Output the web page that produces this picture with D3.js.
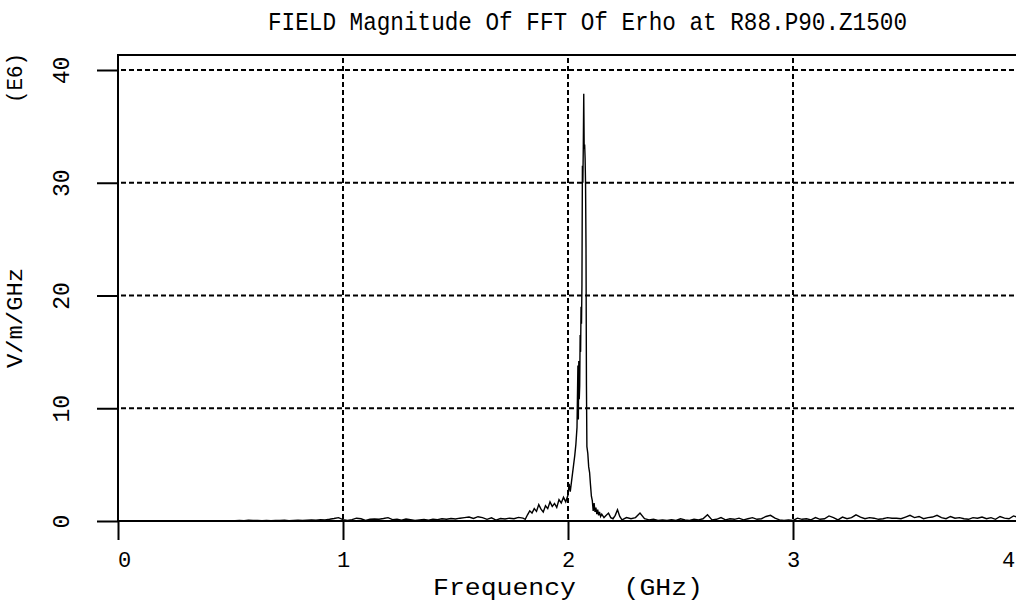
<!DOCTYPE html>
<html><head><meta charset="utf-8">
<script src="https://cdn.jsdelivr.net/npm/d3@7"></script>
<style>
body{margin:0;background:#fff;}
svg{display:block;}
text{font-family:"Liberation Mono","DejaVu Sans Mono",monospace;fill:#000;}
</style></head>
<body>
<svg id="chart" width="1016" height="610"></svg>
<script>
const titleText = "FIELD Magnitude Of FFT Of Erho at R88.P90.Z1500";
const xLabel = "Frequency   (GHz)";
const yLabel = "V/m/GHz";
const yScaleLabel = "(E6)";
const xTicks = [0, 1, 2, 3, 4];
const yTicks = [0, 10, 20, 30, 40];
const xGrid = [1, 2, 3];
const yGrid = [10, 20, 30, 40];

const freqGHz = [
  0.00,0.10,0.20,0.30,0.40,0.50,0.52,0.54,0.56,0.58,0.60,0.62,0.64,0.66,0.68,0.70,0.72,0.74,0.76,0.78,
  0.80,0.82,0.84,0.86,0.88,0.90,0.92,0.94,0.96,0.98,1.00,1.02,1.04,1.06,1.08,1.10,1.12,1.14,1.16,1.18,
  1.20,1.22,1.24,1.26,1.28,1.30,1.32,1.34,1.36,1.38,1.40,1.42,1.44,1.46,1.48,1.50,1.52,1.54,1.56,1.58,
  1.60,1.62,1.64,1.66,1.68,1.70,1.72,1.74,1.76,1.78,1.80,1.81,1.82,1.83,1.84,1.85,1.86,1.87,1.88,1.89,
  1.90,1.91,1.92,1.93,1.94,1.95,1.96,1.97,1.98,1.99,2.00,2.005,2.010,2.015,2.020,2.025,2.030,2.035,2.040,2.044,
  2.046,2.048,2.050,2.052,2.054,2.056,2.058,2.060,2.062,2.064,2.066,2.068,2.070,2.072,2.074,2.076,2.078,2.080,2.082,2.084,
  2.088,2.092,2.096,2.100,2.104,2.108,2.112,2.116,2.120,2.124,2.128,2.132,2.136,2.140,2.145,2.150,2.16,2.17,2.18,2.19,
  2.20,2.21,2.22,2.23,2.24,2.26,2.28,2.30,2.32,2.34,2.36,2.38,2.40,2.42,2.44,2.46,2.48,2.50,2.52,2.54,
  2.56,2.58,2.60,2.62,2.64,2.66,2.68,2.70,2.72,2.74,2.76,2.78,2.80,2.82,2.84,2.86,2.88,2.90,2.92,2.94,
  2.96,2.98,3.00,3.02,3.04,3.06,3.08,3.10,3.12,3.14,3.16,3.18,3.20,3.22,3.24,3.26,3.28,3.30,3.32,3.34,
  3.36,3.38,3.40,3.42,3.44,3.46,3.48,3.50,3.52,3.54,3.56,3.58,3.60,3.62,3.64,3.66,3.68,3.70,3.72,3.74,
  3.76,3.78,3.80,3.82,3.84,3.86,3.88,3.90,3.92,3.94,3.96,3.98,4.00
];
const magnitudeE6 = [
  0,0,0,0,0,0.00,0.02,0.05,0.03,0.06,0.04,0.05,0.02,0.04,0.03,0.05,0.04,0.06,0.03,0.05,
  0.06,0.04,0.08,0.10,0.07,0.12,0.10,0.15,0.22,0.30,0.12,0.05,0.12,0.25,0.20,0.05,0.15,0.18,0.16,0.22,
  0.30,0.12,0.15,0.08,0.18,0.12,0.05,0.10,0.14,0.08,0.16,0.12,0.20,0.15,0.22,0.18,0.25,0.30,0.35,0.22,
  0.38,0.30,0.15,0.28,0.08,0.22,0.18,0.25,0.20,0.32,0.25,0.15,0.55,0.90,0.70,1.10,0.85,1.45,1.05,0.80,
  1.35,1.10,1.70,1.30,1.55,1.20,1.90,1.60,2.10,1.70,2.30,3.3,2.6,3.4,4.2,5.0,5.8,6.8,8.3,13.8,
  9.0,14.2,10.8,12.0,16.5,15.0,19.0,17.5,21.0,31.5,30.0,33.2,37.9,33.0,33.4,32.2,30.0,24.3,12.0,6.6,
  6.0,4.8,4.3,3.2,2.2,1.8,0.9,1.6,0.8,1.2,0.6,1.0,0.5,0.8,0.4,0.6,0.3,0.5,0.7,0.3,
  0.2,0.5,1.0,0.4,0.1,0.3,0.2,0.3,0.7,0.2,0.1,0.15,0.05,0.10,0.05,0.12,0.05,0.2,0.1,0.05,
  0.15,0.1,0.2,0.55,0.1,0.15,0.3,0.1,0.2,0.15,0.25,0.1,0.2,0.3,0.15,0.2,0.4,0.5,0.25,0.1,
  0.05,0.1,0.05,0.25,0.15,0.2,0.1,0.3,0.15,0.2,0.45,0.3,0.1,0.35,0.2,0.3,0.55,0.35,0.2,0.3,
  0.25,0.15,0.2,0.3,0.25,0.25,0.2,0.35,0.5,0.3,0.4,0.2,0.3,0.35,0.5,0.3,0.2,0.4,0.25,0.3,
  0.2,0.15,0.3,0.25,0.35,0.2,0.3,0.15,0.4,0.25,0.2,0.45,0.3
];

const svg = d3.select("#chart");
const W = 1016, H = 610;
const left = 118, right = 1018, plotTop = 55;
const x = d3.scaleLinear().domain([0, 4]).range([left, right]);
const y = d3.scaleLinear().domain([0, 40]).range([521, 70]);
const baseY = y(0);

// grid
const grid = svg.append("g").attr("stroke", "#000").attr("stroke-width", 2).attr("stroke-dasharray", "5,3");
grid.selectAll("line.h").data(yGrid).enter().append("line")
  .attr("x1", left + 3).attr("x2", W).attr("y1", d => y(d)).attr("y2", d => y(d));
grid.selectAll("line.v").data(xGrid).enter().append("line")
  .attr("x1", d => x(d)).attr("x2", d => x(d)).attr("y1", plotTop + 3).attr("y2", baseY);

// frame lines
svg.append("line").attr("x1", left).attr("x2", W).attr("y1", plotTop).attr("y2", plotTop)
  .attr("stroke", "#000").attr("stroke-width", 2);
svg.append("line").attr("x1", left).attr("x2", left).attr("y1", plotTop - 1).attr("y2", baseY)
  .attr("stroke", "#000").attr("stroke-width", 2);
svg.append("line").attr("x1", left).attr("x2", W).attr("y1", baseY).attr("y2", baseY)
  .attr("stroke", "#000").attr("stroke-width", 2);

// axes
const yAxis = svg.append("g").attr("transform", `translate(${left},0)`)
  .call(d3.axisLeft(y).tickValues(yTicks).tickSize(21).tickFormat(d3.format("d")));
yAxis.select(".domain").remove();
yAxis.selectAll(".tick line").attr("stroke", "#000").attr("stroke-width", 2);
yAxis.selectAll(".tick text").remove();
yAxis.selectAll(".tick").append("text")
  .attr("transform", "translate(-57,0) rotate(-90)")
  .attr("text-anchor", "middle").attr("dy", "0.35em")
  .attr("font-size", 23)
  .text(d => d);

const xAxis = svg.append("g").attr("transform", `translate(0,${baseY})`)
  .call(d3.axisBottom(x).tickValues(xTicks).tickSize(19).tickFormat(d3.format("d")));
xAxis.select(".domain").remove();
xAxis.selectAll(".tick line").attr("stroke", "#000").attr("stroke-width", 2);
xAxis.selectAll(".tick text").remove();
xAxis.selectAll(".tick").append("text")
  .attr("x", d => d === 0 ? 6 : (d === 4 ? -10 : 0))
  .attr("y", 46).attr("text-anchor", "middle")
  .attr("font-size", 22)
  .text(d => d);

// data line
svg.append("defs").append("clipPath").attr("id", "clip")
  .append("rect").attr("x", left).attr("y", plotTop).attr("width", W - left).attr("height", baseY - plotTop + 2);
const pts = freqGHz.map((f, i) => [f, magnitudeE6[i]]);
svg.append("path").datum(pts)
  .attr("clip-path", "url(#clip)")
  .attr("fill", "none").attr("stroke", "#000").attr("stroke-width", 1.4)
  .attr("d", d3.line().x(d => x(d[0])).y(d => y(d[1])));

// texts
svg.append("text").attr("x", 268).attr("y", 30).attr("font-size", 25)
  .attr("textLength", 639).attr("lengthAdjust", "spacingAndGlyphs").text(titleText);
svg.append("text").attr("x", 433).attr("y", 595).attr("font-size", 23)
  .attr("textLength", 270).attr("lengthAdjust", "spacingAndGlyphs")
  .attr("xml:space", "preserve").text(xLabel);
svg.append("text").attr("transform", "translate(22,318) rotate(-90)").attr("text-anchor", "middle")
  .attr("font-size", 22).attr("textLength", 100).attr("lengthAdjust", "spacingAndGlyphs").text(yLabel);
svg.append("text").attr("transform", "translate(22,78) rotate(-90)").attr("text-anchor", "middle")
  .attr("font-size", 22).attr("textLength", 50).attr("lengthAdjust", "spacingAndGlyphs").text(yScaleLabel);
</script>
</body></html>
